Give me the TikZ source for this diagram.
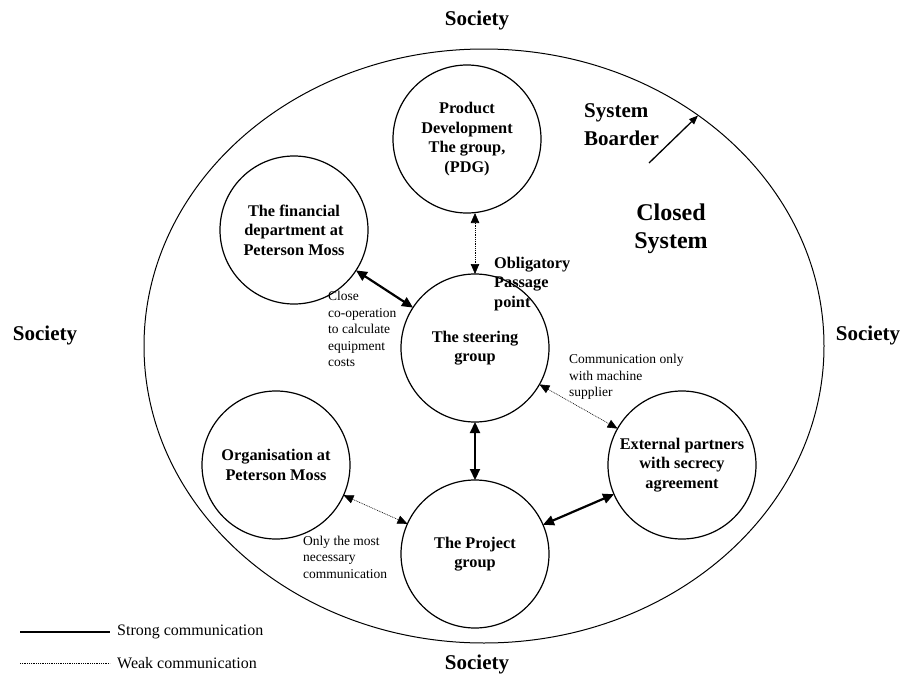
\documentclass[tikz,border=0pt]{standalone}
\usepackage{fontspec}
\setmainfont{Liberation Serif}
\usetikzlibrary{arrows.meta}
\begin{document}
\begin{tikzpicture}[x=1pt,y=-1pt,
  group/.style={circle,draw,line width=1.2pt,minimum size=148pt,inner sep=0pt,outer sep=0pt,
    align=center,font=\fontsize{16.3}{19.5}\selectfont\bfseries},
  note/.style={align=left,inner sep=0pt,font=\fontsize{13.5}{16.5}\selectfont},
  society/.style={inner sep=0pt,font=\fontsize{21}{24}\selectfont\bfseries},
  bigbold/.style={inner sep=0pt,align=left,font=\fontsize{21}{28}\selectfont\bfseries},
  legendtext/.style={inner sep=0pt,anchor=west,font=\fontsize{16}{19}\selectfont},
  strong/.style={line width=2.2pt,{Triangle[length=11pt,width=10pt]}-{Triangle[length=11pt,width=10pt]}},
  weak/.style={line width=0.6pt,dash pattern=on 0.9pt off 0.9pt,
    {Triangle[length=10pt,width=8.5pt]}-{Triangle[length=10pt,width=8.5pt]}},
]
% canvas
\fill[white] (0,0) rectangle (914,680);
\useasboundingbox (0,0) rectangle (914,680);

% system border
\draw[line width=1pt] (484,346) ellipse [x radius=340, y radius=297];

% surrounding society
\node[society] (socN) at (477,20) {Society};
\node[society] (socS) at (477,664) {Society};
\node[society] (socW) at (45,335) {Society};
\node[society] (socE) at (868,335) {Society};

% groups
\node[group] (pdg)   at (467,139) {Product\\Development\\The group,\\(PDG)};
\node[group] (fin)   at (294,230) {The financial\\department at\\Peterson Moss};
\node[group] (steer) at (475,348) {The steering\\group};
\node[group] (org)   at (276,465) {Organisation at\\Peterson Moss};
\node[group] (ext)   at (682,465) {External partners\\with secrecy\\agreement};
\node[group] (proj)  at (475,554) {The Project\\group};

% annotations
\node[bigbold,anchor=west] (border) at (584,125) {System\\Boarder};
\node[inner sep=0pt,align=center,font=\fontsize{24}{28}\selectfont\bfseries] (closed) at (671,229) {Closed\\System};
\node[inner sep=0pt,align=left,anchor=west,font=\fontsize{16.3}{19.5}\selectfont\bfseries] (opp) at (494,284) {Obligatory\\Passage\\point};
\node[note,anchor=west] (nfin) at (328,329) {Close\\co-operation\\to calculate\\equipment\\costs};
\node[note,anchor=west] (next) at (569,377) {Communication only\\with machine\\supplier};
\node[note,anchor=west] (norg) at (303,557) {Only the most\\necessary\\communication};

% border pointer
\coordinate (bstart) at (649,163);
\coordinate (btip) at (698,115.5);
\draw[line width=1.3pt,-{Triangle[length=9pt,width=7pt]}] (bstart) -- (btip);

% connections
\draw[weak]   (steer.north |- pdg.south) -- (steer.north);
\draw[strong] (fin) -- (steer);
\draw[weak]   (steer) -- (ext);
\draw[strong] (steer) -- (proj);
\draw[strong] (proj) -- (ext);
\draw[weak]   (org) -- (proj);

% legend
\coordinate (ls1) at (20,632);
\coordinate (ls2) at (110,632);
\coordinate (lw1) at (20,663);
\coordinate (lw2) at (110,663);
\draw[line width=2pt] (ls1) -- (ls2);
\draw[line width=0.6pt,dash pattern=on 0.9pt off 0.9pt] (lw1) -- (lw2);
\node[legendtext] (lstrong) at (117,632) {Strong communication};
\node[legendtext] (lweak) at (117,663) {Weak communication};
\end{tikzpicture}
\end{document}
